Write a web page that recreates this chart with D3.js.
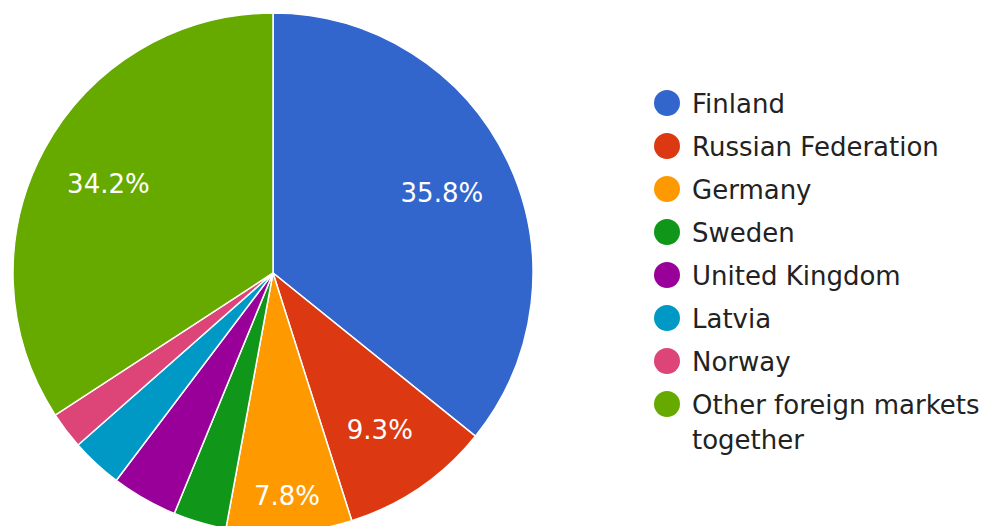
<!DOCTYPE html>
<html>
<head>
<meta charset="utf-8">
<script src="https://cdn.jsdelivr.net/npm/d3@7"></script>
<style>
html,body{margin:0;padding:0;background:#fff;overflow:hidden;}
svg{display:block;}
</style>
</head>
<body>
<svg id="chart" width="990" height="526"></svg>
<script>
const categories = ["Finland","Russian Federation","Germany","Sweden","United Kingdom","Latvia","Norway","Other foreign markets together"];
const values = [35.8, 9.3, 7.8, 3.3, 4.1, 3.2, 2.3, 34.2];
const colors = ["#3366cc","#dc3912","#ff9900","#109618","#990099","#0099c6","#dd4477","#66aa00"];
const legendLines = [["Finland"],["Russian Federation"],["Germany"],["Sweden"],["United Kingdom"],["Latvia"],["Norway"],["Other foreign markets","together"]];

const W = 990, H = 526;
const cx = 273, cy = 273, R = 260;
const font = "'DejaVu Sans', Verdana, sans-serif";
const svg = d3.select("#chart");

const pie = d3.pie().sort(null).value(d => d)(values);
const arc = d3.arc().innerRadius(0).outerRadius(R);
const color = d3.scaleOrdinal().domain(categories).range(colors);

const g = svg.append("g").attr("transform", `translate(${cx},${cy})`);
g.selectAll("path").data(pie).join("path")
  .attr("d", arc)
  .attr("fill", (d,i) => color(categories[i]))
  .attr("stroke", "#fff")
  .attr("stroke-width", 1.5);

// labels: smallest radius (min 0.72R) where the text box keeps a margin from both slice edges
const total = d3.sum(values);
const fs = 26, pad = 20;
pie.forEach((d,i) => {
  const pct = values[i] / total * 100;
  if (pct < 5) return;
  const txt = pct.toFixed(1) + "%";
  const t = g.append("text").text(txt)
    .attr("font-family", font).attr("font-size", fs)
    .attr("fill", "#fff").attr("text-anchor", "middle");
  const bw = t.node().getComputedTextLength();
  const bh = fs * 0.73;
  const mid = (d.startAngle + d.endAngle) / 2;
  // signed distance from the edge line, positive toward the slice interior
  const edgeDist = (px, py, ang, sign) => sign * (px * Math.cos(ang) + py * Math.sin(ang));
  let r = 0.72 * R;
  for (let rr = 0.72*R; rr < 0.86*R; rr += 1) {
    const x = Math.sin(mid)*rr, y = -Math.cos(mid)*rr;
    const corners = [[-1,-1],[1,-1],[-1,1],[1,1]].map(([sx,sy]) => [x + sx*bw/2, y + sy*bh/2]);
    const ok = corners.every(([px,py]) => {
      let a = Math.atan2(px, -py); if (a < 0) a += 2*Math.PI;
      return a > d.startAngle && a < d.endAngle &&
        edgeDist(px, py, d.startAngle, 1) >= pad && edgeDist(px, py, d.endAngle, -1) >= pad;
    });
    r = rr;
    if (ok) break;
  }
  const x = Math.sin(mid)*r, y = -Math.cos(mid)*r;
  t.attr("x", x).attr("y", y + bh/2);
});

// legend
const lg = svg.append("g");
const lx = 667, ly0 = 103, step = 43, lineH = 35;
legendLines.forEach((lines, i) => {
  const y = ly0 + i*step;
  lg.append("circle").attr("cx", lx).attr("cy", y).attr("r", 13).attr("fill", colors[i]);
  const t = lg.append("text").attr("font-family", font).attr("font-size", 26).attr("fill", "#222");
  lines.forEach((ln, j) => {
    t.append("tspan").attr("x", lx + 25).attr("y", y + 9.5 + j*lineH).text(ln);
  });
});
</script>
</body>
</html>
